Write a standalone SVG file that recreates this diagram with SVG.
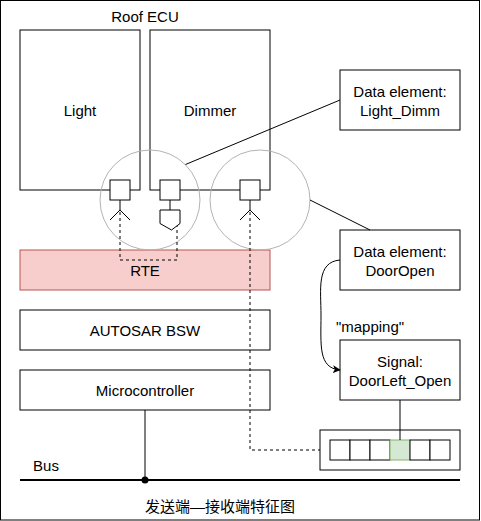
<svg xmlns="http://www.w3.org/2000/svg" width="481" height="521" viewBox="0 0 481 521">
<style>
text{font-family:"Liberation Sans",Arial,sans-serif;font-size:15px;fill:#000;text-anchor:middle;dominant-baseline:central}
.box{fill:#fff;stroke:#000;stroke-width:1}
.ln{fill:none;stroke:#000;stroke-width:1}
.dash{fill:none;stroke:#000;stroke-width:1;stroke-dasharray:3 3}
.circ{fill:none;stroke:#b3b3b3;stroke-width:1}
</style>
<defs>
<marker id="arr" viewBox="0 0 10 10" refX="9" refY="5" markerWidth="8" markerHeight="8" markerUnits="userSpaceOnUse" orient="auto">
<path d="M0,0 L10,5 L0,10 L2.5,5 Z" fill="#000"/>
</marker>
</defs>
<rect x="0.5" y="0.5" width="479" height="519.5" fill="#fff" stroke="#000"/>
<g id="roof-ecu-label"><text x="145" y="16">Roof ECU</text></g>
<g id="light"><rect class="box" x="20" y="30" width="120" height="160"/><text x="80" y="110">Light</text></g>
<g id="dimmer"><rect class="box" x="150" y="30" width="120" height="160"/><text x="210" y="110">Dimmer</text></g>
<g id="de-light-dimm"><rect class="box" x="340" y="70" width="120" height="60"/><text x="400" y="91">Data element:</text><text x="400" y="110">Light_Dimm</text></g>
<g id="rte"><rect x="20" y="250" width="250" height="40" fill="#f8cecc" stroke="#b85450"/><text x="145" y="270">RTE</text></g>
<g id="bsw"><rect class="box" x="20" y="310" width="250" height="40"/><text x="145" y="330">AUTOSAR BSW</text></g>
<g id="mcu"><rect class="box" x="20" y="370" width="250" height="40"/><text x="145" y="390">Microcontroller</text></g>
<g id="de-door-open"><rect class="box" x="340" y="230" width="120" height="60"/><text x="400" y="251">Data element:</text><text x="400" y="270">DoorOpen</text></g>
<g id="signal"><rect class="box" x="340" y="340" width="120" height="60"/><text x="400" y="361">Signal:</text><text x="400" y="380">DoorLeft_Open</text></g>
<g id="frame">
<rect class="box" x="320" y="430" width="140" height="40"/>
<rect class="box" x="330" y="440" width="20" height="20"/>
<rect class="box" x="350" y="440" width="20" height="20"/>
<rect class="box" x="370" y="440" width="20" height="20"/>
<rect x="390" y="440" width="20" height="20" fill="#d5e8d4" stroke="#82b366"/>
<rect class="box" x="410" y="440" width="20" height="20"/>
<rect class="box" x="430" y="440" width="20" height="20"/>
</g>
<g id="mapping-label"><text x="370" y="326">"mapping"</text></g>
<g id="bus-label"><text x="46" y="465">Bus</text></g>
<g id="caption"><text x="220" y="506" style="font-family:'Liberation Sans','Noto Sans CJK SC',sans-serif">发送端—接收端特征图</text></g>
<g id="circle-1"><circle class="circ" cx="150" cy="200" r="50"/></g>
<g id="circle-2"><circle class="circ" cx="260" cy="200" r="50"/></g>
<g id="port-light-r">
<rect class="box" x="110" y="180" width="20" height="20"/>
<path class="ln" d="M120,200 V210 M110,220 L120,210 L130,220"/>
</g>
<g id="port-dimmer-p">
<rect class="box" x="160" y="180" width="20" height="20"/>
<path class="ln" d="M170,200 V210"/>
<path class="box" d="M160,210 H180 V223.5 L171.5,230 L160,223.5 Z"/>
</g>
<g id="port-dimmer-r">
<rect class="box" x="240" y="180" width="20" height="20"/>
<path class="ln" d="M250,200 V210 M240,220 L250,210 L260,220"/>
</g>
<g id="connectors">
<path class="ln" d="M185.5,164.5 L340,100"/>
<path class="ln" d="M310,200 L370,230"/>
<path class="ln" d="M340,260 C316,262 321,290 321,315 C321,345 318,368 340,370" marker-end="url(#arr)"/>
<path class="ln" d="M400,400 V440"/>
<path class="dash" d="M120,212 V260 H177 V226"/>
<path class="dash" d="M250,212 V450 H320"/>
<path class="ln" d="M145,410 V480"/>
<path d="M20,480 H460" fill="none" stroke="#000" stroke-width="2"/>
<circle cx="145" cy="480" r="3.5" fill="#000"/>
</g>
</svg>
